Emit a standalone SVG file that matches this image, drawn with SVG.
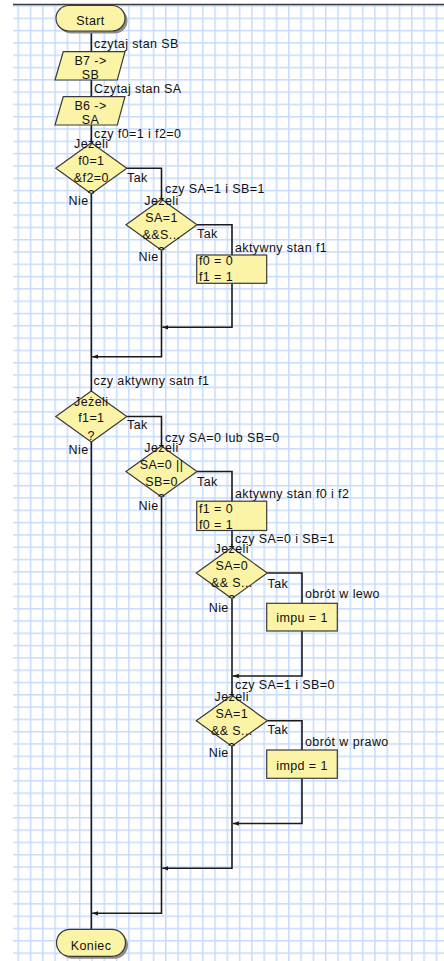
<svg xmlns="http://www.w3.org/2000/svg" width="444" height="961" viewBox="0 0 444 961">
  <style>
    text { font-family: "Liberation Sans", Arial, sans-serif; font-size: 12.5px; letter-spacing: 0.4px; fill: #111; }
    .c { text-anchor: middle; }
    .e { text-anchor: end; }
    .shape { fill: #fbf3a5; stroke: #3a3a3a; stroke-width: 1.2; }
    .shadow { fill: #8c8c8c; }
    .wire { fill: none; stroke: #1a1a1a; stroke-width: 1.6; }
    .merge { marker-end: url(#arr); }
  </style>
  <defs>
    <pattern id="grid" patternUnits="userSpaceOnUse" x="17.45" y="17.55" width="12.3" height="12.3">
      <rect width="1.5" height="12.3" fill="#c6dcfb"/>
      <rect width="12.3" height="1.5" fill="#c6dcfb"/>
    </pattern>
    <marker id="arr" viewBox="0 0 6 6" refX="6" refY="3" markerWidth="6" markerHeight="6" markerUnits="userSpaceOnUse" orient="auto">
      <path d="M0,0.8 L6,3 L0,5.2 z" fill="#1a1a1a"/>
    </marker>
    <clipPath id="clip-d1" clipPathUnits="userSpaceOnUse"><rect x="55.8" y="136.3" width="71" height="57.5"/></clipPath>
    <clipPath id="clip-d2" clipPathUnits="userSpaceOnUse"><rect x="126" y="192.8" width="71" height="57.5"/></clipPath>
    <clipPath id="clip-d3" clipPathUnits="userSpaceOnUse"><rect x="55.8" y="384.5" width="71" height="57.5"/></clipPath>
    <clipPath id="clip-d4" clipPathUnits="userSpaceOnUse"><rect x="126" y="439.5" width="71" height="57.5"/></clipPath>
    <clipPath id="clip-d5" clipPathUnits="userSpaceOnUse"><rect x="196.3" y="541" width="71" height="57.5"/></clipPath>
    <clipPath id="clip-d6" clipPathUnits="userSpaceOnUse"><rect x="196.3" y="688.7" width="71" height="57.5"/></clipPath>
    <clipPath id="clip-r1" clipPathUnits="userSpaceOnUse"><rect x="196.7" y="255" width="70" height="28.3"/></clipPath>
    <clipPath id="clip-r2" clipPathUnits="userSpaceOnUse"><rect x="196.7" y="501.2" width="70" height="29.3"/></clipPath>
  </defs>

  <!-- squared paper background -->
  <rect width="444" height="961" fill="#ffffff"/>
  <rect x="13" y="4" width="431" height="957" fill="url(#grid)"/>
  <line x1="13" y1="4.5" x2="444" y2="4.5" stroke="#3c3c3c" stroke-width="1.5"/>

  <!-- flow lines -->
  <g id="connectors" class="wire">
    <path d="M91.3,31 V51.7"/>
    <path d="M91.3,80 V96.7"/>
    <path d="M91.3,125 V142.8"/>
    <path d="M126.8,168.3 H161.5 V199.3"/>
    <path d="M197,224.8 H232 V255"/>
    <path class="merge" d="M232,283.3 V327.3 H162.3"/>
    <path class="merge" d="M161.5,250.3 V356.7 H92.1"/>
    <path d="M91.3,193.8 V391"/>
    <path d="M126.8,416.5 H161.5 V446"/>
    <path d="M197,471.5 H232 V501.2"/>
    <path d="M232,530.5 V547.5"/>
    <path d="M267.3,573 H302 V603.3"/>
    <path class="merge" d="M302,631 V676 H232.8"/>
    <path d="M232,598.5 V695.2"/>
    <path d="M267.3,720.7 H302 V750"/>
    <path class="merge" d="M302,778.3 V823.5 H232.8"/>
    <path class="merge" d="M232,746.2 V868.3 H162.3"/>
    <path class="merge" d="M161.5,497 V913.3 H92.1"/>
    <path d="M91.3,442 V929.3"/>
  </g>

  <!-- connector captions -->
  <g id="captions">
    <text x="94" y="47.5">czytaj stan SB</text>
    <text x="94" y="93">Czytaj stan SA</text>
    <text x="94" y="138.3">czy f0=1 i f2=0</text>
    <text x="127" y="181.5">Tak</text>
    <text class="e" x="88.5" y="205">Nie</text>
    <text x="165" y="193.3">czy SA=1 i SB=1</text>
    <text x="197" y="238">Tak</text>
    <text class="e" x="158.5" y="261">Nie</text>
    <text x="235" y="251.7">aktywny stan f1</text>
    <text x="93.5" y="385">czy aktywny satn f1</text>
    <text x="127" y="428.5">Tak</text>
    <text class="e" x="88.5" y="454">Nie</text>
    <text x="165" y="441.7">czy SA=0 lub SB=0</text>
    <text x="197" y="485.5">Tak</text>
    <text class="e" x="158.5" y="510">Nie</text>
    <text x="235" y="498">aktywny stan f0 i f2</text>
    <text x="235" y="543.3">czy SA=0 i SB=1</text>
    <text x="267.5" y="587.5">Tak</text>
    <text class="e" x="228.7" y="612">Nie</text>
    <text x="305" y="598.3">obrót w lewo</text>
    <text x="235" y="689.3">czy SA=1 i SB=0</text>
    <text x="267.5" y="734">Tak</text>
    <text class="e" x="228.7" y="756.7">Nie</text>
    <text x="305" y="746">obrót w prawo</text>
  </g>

  <g id="start">
    <rect class="shadow" x="58.5" y="8" width="69" height="25.5" rx="12.75"/>
    <rect class="shape" x="56" y="5.5" width="69" height="25.5" rx="12.75"/>
    <text class="c" x="90.5" y="25">Start</text>
  </g>

  <g id="read-sb">
    <polygon class="shape" points="63.3,51.7 125,51.7 117.3,80 55,80"/>
    <text class="c" x="90.5" y="64.5">B7 -&gt;</text>
    <text class="c" x="90.5" y="79.3">SB</text>
  </g>

  <g id="read-sa">
    <polygon class="shape" points="63.3,96.7 125,96.7 117.3,125 55,125"/>
    <text class="c" x="90.5" y="109.5">B6 -&gt;</text>
    <text class="c" x="90.5" y="124.3">SA</text>
  </g>

  <g id="if-f0-f2">
    <polygon class="shape" points="55.8,168.3 91.3,142.8 126.8,168.3 91.3,193.8"/>
    <g clip-path="url(#clip-d1)">
      <text class="c" x="91.3" y="148.3">Jeżeli</text>
      <text class="c" x="91.3" y="165.3">f0=1</text>
      <text class="c" x="91.3" y="182.3">&amp;f2=0</text>
      <text class="c" x="91.3" y="199.3">?</text>
    </g>
  </g>

  <g id="if-sa1-sb1">
    <polygon class="shape" points="126,224.8 161.5,199.3 197,224.8 161.5,250.3"/>
    <g clip-path="url(#clip-d2)">
      <text class="c" x="161.5" y="204.8">Jeżeli</text>
      <text class="c" x="161.5" y="221.8">SA=1</text>
      <text class="c" x="161.5" y="238.8">&amp;&amp;S...</text>
      <text class="c" x="161.5" y="255.8">?</text>
    </g>
  </g>

  <g id="set-f1">
    <rect class="shape" x="196.7" y="255" width="70" height="28.3"/>
    <g clip-path="url(#clip-r1)">
      <text x="199" y="264.5">f0 = 0</text>
      <text x="199" y="281">f1 = 1</text>
    </g>
  </g>

  <g id="if-f1">
    <polygon class="shape" points="55.8,416.5 91.3,391 126.8,416.5 91.3,442"/>
    <g clip-path="url(#clip-d3)">
      <text class="c" x="91.3" y="405.5">Jeżeli</text>
      <text class="c" x="91.3" y="422">f1=1</text>
      <text class="c" x="91.3" y="439.5">?</text>
    </g>
  </g>

  <g id="if-sa0-sb0">
    <polygon class="shape" points="126,471.5 161.5,446 197,471.5 161.5,497"/>
    <g clip-path="url(#clip-d4)">
      <text class="c" x="161.5" y="451.5">Jeżeli</text>
      <text class="c" x="161.5" y="468.5">SA=0 ||</text>
      <text class="c" x="161.5" y="485.5">SB=0</text>
      <text class="c" x="161.5" y="502.5">?</text>
    </g>
  </g>

  <g id="set-f0">
    <rect class="shape" x="196.7" y="501.2" width="70" height="29.3"/>
    <g clip-path="url(#clip-r2)">
      <text x="199" y="512.8">f1 = 0</text>
      <text x="199" y="529.3">f0 = 1</text>
    </g>
  </g>

  <g id="if-sa0-sb1">
    <polygon class="shape" points="196.3,573 231.8,547.5 267.3,573 231.8,598.5"/>
    <g clip-path="url(#clip-d5)">
      <text class="c" x="231.8" y="553">Jeżeli</text>
      <text class="c" x="231.8" y="570">SA=0</text>
      <text class="c" x="231.8" y="587">&amp;&amp; S...</text>
      <text class="c" x="231.8" y="604">?</text>
    </g>
  </g>

  <g id="rotate-left">
    <rect class="shape" x="266.7" y="603.3" width="70.6" height="27.7"/>
    <text class="c" x="302" y="622.3">impu = 1</text>
  </g>

  <g id="if-sa1-sb0">
    <polygon class="shape" points="196.3,720.7 231.8,695.2 267.3,720.7 231.8,746.2"/>
    <g clip-path="url(#clip-d6)">
      <text class="c" x="231.8" y="700.7">Jeżeli</text>
      <text class="c" x="231.8" y="717.7">SA=1</text>
      <text class="c" x="231.8" y="734.7">&amp;&amp; S...</text>
      <text class="c" x="231.8" y="751.7">?</text>
    </g>
  </g>

  <g id="rotate-right">
    <rect class="shape" x="266.7" y="750" width="70.6" height="28.3"/>
    <text class="c" x="302" y="769.5">impd = 1</text>
  </g>

  <g id="end">
    <rect class="shadow" x="59" y="931.8" width="69" height="27" rx="13.5"/>
    <rect class="shape" x="56.5" y="929.3" width="69" height="27" rx="13.5"/>
    <text class="c" x="91" y="949.5">Koniec</text>
  </g>
</svg>
